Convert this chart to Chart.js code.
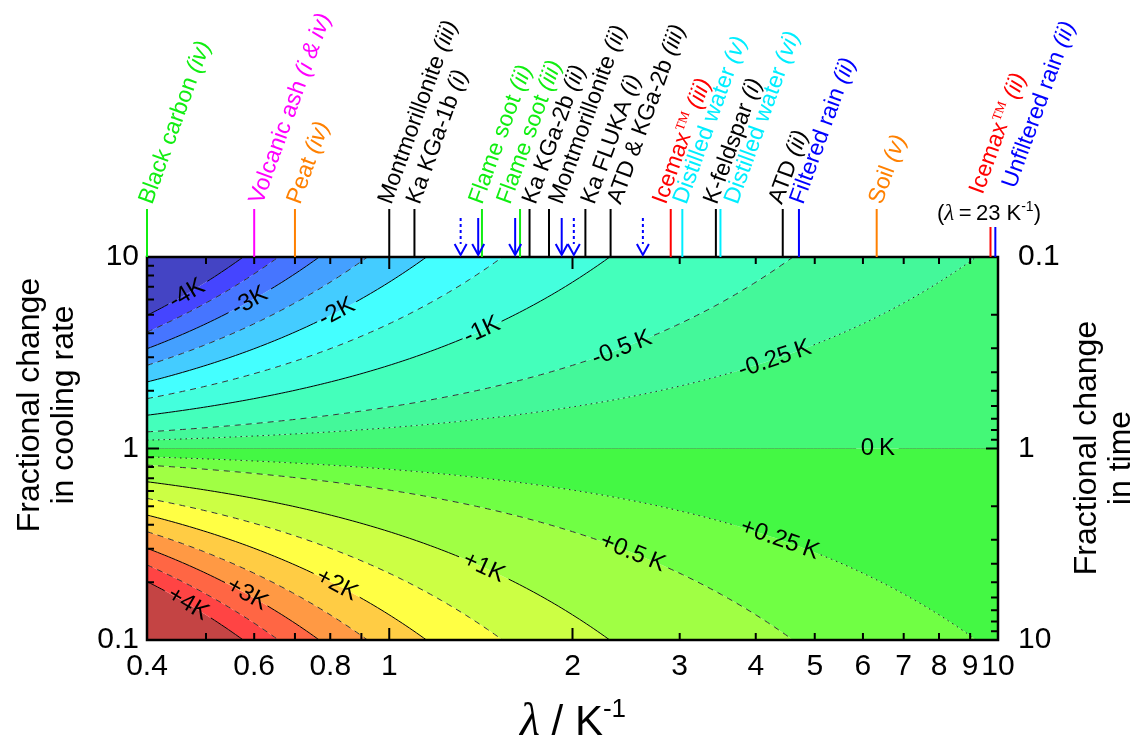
<!DOCTYPE html>
<html>
<head>
<meta charset="utf-8">
<script src="https://cdn.jsdelivr.net/npm/chart.js@4.4.1/dist/chart.umd.min.js"></script>
<style>
  html, body { margin: 0; padding: 0; background: #fff; }
  canvas { display: block; }
</style>
</head>
<body>
<canvas id="c" width="1147" height="753"></canvas>
<script>
/* Contour levels of the freezing temperature shift (K), top band first */
const levels = [-4, -3.5, -3, -2.5, -2, -1.5, -1, -0.5, -0.25, 0, 0.25, 0.5, 1, 1.5, 2, 2.5, 3, 3.5, 4];
const bandColors = [
  "#4444c4", "#4545ff", "#4675ff", "#44a0ff", "#44ccff", "#44ffff", "#44ffdd",
  "#44ffbb", "#44f89a", "#44f877", "#44f844", "#70ff44", "#a0ff44", "#ccff44",
  "#ffff44", "#ffcc44", "#ff9944", "#ff6644", "#ff4444", "#c44444"
];

/* Contour labels */
const labelLevels = [-4, -3, -2, -1, -0.5, -0.25, 0, 0.25, 0.5, 1, 2, 3, 4];
const labelLambda = [0.465, 0.59, 0.82, 1.42, 2.41, 4.3, 6.35, 4.38, 2.51, 1.43, 0.82, 0.584, 0.467];
const labelText = ["-4K", "-3K", "-2K", "-1K", "-0.5\u2009K", "-0.25\u2009K", "0\u2009K",
  "+0.25\u2009K", "+0.5\u2009K", "+1K", "+2K", "+3K", "+4K"];

/* Axis ticks */
const xTickLabels = [0.4, 0.6, 0.8, 1, 2, 3, 4, 5, 6, 7, 8, 9, 10];
const xTickMarks = [0.5, 0.6, 0.7, 0.8, 0.9, 1, 2, 3, 4, 5, 6, 7, 8, 9];
const yTickLabels = [0.1, 1, 10];
const yTickMarks = [0.2, 0.3, 0.4, 0.5, 0.6, 0.7, 0.8, 0.9, 1, 2, 3, 4, 5, 6, 7, 8, 9];

/* Literature lambda values marked above the plot */
const annoLambda = [0.4, 0.6, 0.7, 1.0, 1.1, 1.42, 1.64, 1.7, 1.83, 2.1, 2.31, 2.9, 3.03, 3.44, 3.5, 4.43, 4.71, 6.32, 9.72, 9.9];
const annoName = ["Black carbon", "Volcanic ash", "Peat", "Montmorillonite", "Ka KGa-1b", "Flame soot",
  "Flame soot", "Ka KGa-2b", "Montmorillonite", "Ka FLUKA", "ATD & KGa-2b", "Icemax\u2122",
  "Distilled water", "K-feldspar", "Distilled water", "ATD", "Filtered rain", "Soil",
  "Icemax\u2122", "Unfiltered rain"];
const annoTag = ["(iv)", "(i & iv)", "(iv)", "(iii)", "(i)", "(ii)", "(iii)", "(ii)", "(ii)", "(i)",
  "(iii)", "(iii)", "(v)", "(i)", "(vi)", "(ii)", "(ii)", "(v)", "(ii)", "(ii)"];
const annoColor = ["#11ee11", "#ff00ff", "#ff8000", "#000", "#000", "#11ee11", "#11ee11", "#000",
  "#000", "#000", "#000", "#ff0000", "#00eeff", "#000", "#00eeff", "#000", "#0000ff", "#ff8000",
  "#ff0000", "#0000ff"];
const arrowSolid = [1.4, 1.61, 1.92];
const arrowDotted = [1.31, 2.01, 2.61];

/* layout tweaks for the rotated annotation texts (px) */
const annoDx = [-1, 2, -1, -4, -1, -6, -16, 0, 7, 3, 4, -11, -2, -5, 11, -7, -2, -1, -14, 14];
const annoDy = [0, 0, 0, 0, 0, 0, 0, 0, 0, 0, 0, 0, 0, 0, 0, 0, 0, 0, -10, -16];

const SANS = '"Liberation Sans", Arial, sans-serif';
const SERIF = '"Liberation Serif", "Times New Roman", serif';
const LABEL_FONT = "24px " + SANS;

/* lambda sampling grid used to trace each contour */
const lamGrid = [];
for (let i = 0; i <= 240; i++) lamGrid.push(0.4 * Math.pow(25, i / 240));

// shift dT = -ln(rate)/lambda  ->  rate = exp(-dT * lambda)
const rateFor = (dT, lam) => Math.exp(-dT * lam);

const widthCache = {};
function labelHalfWidth(chart, txt) {
  if (widthCache[txt] === undefined) {
    const c = chart.ctx;
    c.save();
    c.font = LABEL_FONT;
    widthCache[txt] = c.measureText(txt).width / 2;
    c.restore();
  }
  return widthCache[txt];
}

function gapColor(sc, L) {
  const ch = sc.chart;
  const xs = ch.scales.x, ys = ch.scales.y;
  const mx = (sc.p0.x + sc.p1.x) / 2, my = (sc.p0.y + sc.p1.y) / 2;
  for (let i = 0; i < labelLevels.length; i++) {
    if (labelLevels[i] !== L) continue;
    const lam = labelLambda[i];
    const cx = xs.getPixelForValue(lam), cy = ys.getPixelForValue(rateFor(L, lam));
    if (Math.hypot(mx - cx, my - cy) < labelHalfWidth(ch, labelText[i]) + 4) return "rgba(0,0,0,0)";
  }
  return undefined;
}

const datasets = [];
/* filled bands */
levels.forEach((L, i) => {
  datasets.push({
    data: lamGrid.map((l) => ({ x: l, y: rateFor(L, l) })),
    backgroundColor: bandColors[i],
    borderColor: "rgba(0,0,0,0)",
    borderWidth: 0,
    pointRadius: 0,
    fill: i === 0 ? "end" : i - 1,
  });
});
datasets.push({
  data: lamGrid.map((l) => ({ x: l, y: rateFor(levels[levels.length - 1], l) })),
  backgroundColor: bandColors[bandColors.length - 1],
  borderColor: "rgba(0,0,0,0)",
  borderWidth: 0,
  pointRadius: 0,
  fill: "start",
});
/* contour lines */
levels.forEach((L) => {
  let dash = [], color = "#000";
  if (L === 0) color = "rgba(0,90,0,0.35)";
  else if (Math.abs(L) === 0.25) { dash = [1.5, 4]; color = "#222"; }
  else if (!Number.isInteger(L)) { dash = [6, 5]; color = "#333"; }
  datasets.push({
    data: lamGrid.map((l) => ({ x: l, y: rateFor(L, l) })),
    borderColor: color,
    borderWidth: 1,
    borderDash: dash,
    pointRadius: 0,
    fill: false,
    segment: { borderColor: (sc) => gapColor(sc, L) },
  });
});

function drawTicks(ctx, chart) {
  const xs = chart.scales.x, ys = chart.scales.y, y2 = chart.scales.y2;
  const a = chart.chartArea;
  ctx.save();
  ctx.strokeStyle = "#000";
  ctx.lineWidth = 2;
  ctx.beginPath();
  xTickMarks.forEach((v) => {
    const x = xs.getPixelForValue(v);
    const len = v === 1 || v === 2 ? 12 : 7;
    ctx.moveTo(x, a.bottom); ctx.lineTo(x, a.bottom - len);
    ctx.moveTo(x, a.top); ctx.lineTo(x, a.top + len);
  });
  yTickMarks.forEach((v) => {
    const len = v === 1 ? 12 : 7;
    const yl = ys.getPixelForValue(v);
    ctx.moveTo(a.left, yl); ctx.lineTo(a.left + len, yl);
    const yr = y2.getPixelForValue(v);
    ctx.moveTo(a.right, yr); ctx.lineTo(a.right - len, yr);
  });
  ctx.stroke();
  ctx.lineWidth = 2.5;
  ctx.strokeRect(a.left, a.top, a.right - a.left, a.bottom - a.top);
  ctx.restore();
}

function drawContourLabels(ctx, chart) {
  const xs = chart.scales.x, ys = chart.scales.y;
  const a = chart.chartArea;
  ctx.save();
  ctx.beginPath();
  ctx.rect(a.left, a.top, a.right - a.left, a.bottom - a.top);
  ctx.clip();
  ctx.font = LABEL_FONT;
  ctx.fillStyle = "#000";
  ctx.textAlign = "center";
  ctx.textBaseline = "middle";
  labelLevels.forEach((L, i) => {
    const lam = labelLambda[i];
    const px = xs.getPixelForValue(lam), py = ys.getPixelForValue(rateFor(L, lam));
    const px2 = xs.getPixelForValue(lam * 1.03), py2 = ys.getPixelForValue(rateFor(L, lam * 1.03));
    ctx.save();
    ctx.translate(px, py);
    ctx.rotate(Math.atan2(py2 - py, px2 - px));
    ctx.fillText(labelText[i], 0, 0);
    ctx.restore();
  });
  ctx.restore();
}

function drawAnnotations(ctx, chart) {
  const xs = chart.scales.x;
  const top = chart.chartArea.top;
  ctx.save();
  annoLambda.forEach((lam, i) => {
    const x = xs.getPixelForValue(lam);
    const short = lam > 9.5;
    ctx.strokeStyle = annoColor[i];
    ctx.lineWidth = 2;
    ctx.beginPath();
    ctx.moveTo(x, short ? 227 : 209);
    ctx.lineTo(x, top);
    ctx.stroke();

    ctx.save();
    ctx.translate(x + annoDx[i], 203 + annoDy[i]);
    ctx.rotate(-70 * Math.PI / 180);
    ctx.fillStyle = annoColor[i];
    ctx.textAlign = "left";
    ctx.textBaseline = "middle";
    let cx = 0;
    const parts = annoName[i].split("\u2122");
    ctx.font = "23px " + SANS;
    ctx.fillText(parts[0], cx, 0);
    cx += ctx.measureText(parts[0]).width;
    if (parts.length > 1) {
      ctx.font = "13px " + SERIF;
      ctx.fillText("TM", cx + 1, -6);
      cx += ctx.measureText("TM").width + 1;
    }
    ctx.font = "italic 23px " + SANS;
    ctx.fillText(" " + annoTag[i], cx, 0);
    ctx.restore();
  });

  // blue arrows
  ctx.strokeStyle = "#0000ff";
  ctx.lineWidth = 2;
  const drawArrow = (lam, dotted) => {
    const x = xs.getPixelForValue(lam);
    ctx.setLineDash(dotted ? [3, 3] : []);
    ctx.beginPath();
    ctx.moveTo(x, 218);
    ctx.lineTo(x, dotted ? 244 : 254);
    ctx.stroke();
    ctx.setLineDash([]);
    ctx.beginPath();
    ctx.moveTo(x - 6, 244);
    ctx.lineTo(x, 255);
    ctx.lineTo(x + 6, 244);
    ctx.stroke();
  };
  arrowSolid.forEach((l) => drawArrow(l, false));
  arrowDotted.forEach((l) => drawArrow(l, true));

  // (lambda = 23 K-1) note
  ctx.fillStyle = "#000";
  ctx.textBaseline = "alphabetic";
  ctx.textAlign = "left";
  let nx = 937;
  const ny = 220;
  const piece = (t, f, dy) => { ctx.font = f; ctx.fillText(t, nx, ny + (dy || 0)); nx += ctx.measureText(t).width; };
  piece("(", "22px " + SANS);
  piece("\u03bb", "italic 23px " + SERIF);
  piece("\u2009=\u200923 K", "22px " + SANS);
  piece("-1", "14px " + SANS, -9);
  piece(")", "22px " + SANS);
  ctx.restore();
}

function drawTitles(ctx) {
  ctx.save();
  ctx.fillStyle = "#000";
  ctx.textAlign = "center";
  ctx.textBaseline = "middle";
  ctx.font = "32px " + SANS;
  const vtext = (t, x, y) => {
    ctx.save(); ctx.translate(x, y); ctx.rotate(-Math.PI / 2); ctx.fillText(t, 0, 0); ctx.restore();
  };
  vtext("Fractional change", 30, 405);
  vtext("in cooling rate", 64, 405);
  vtext("Fractional change", 1087, 448);
  vtext("in time", 1121, 458);

  // x title: lambda / K-1
  ctx.textAlign = "left";
  ctx.textBaseline = "alphabetic";
  const f1 = "italic 46px " + SERIF, f2 = "42px " + SANS, f3 = "26px " + SANS;
  ctx.font = f1; const w1 = ctx.measureText("\u03bb").width;
  ctx.font = f2; const w2 = ctx.measureText(" / K").width;
  ctx.font = f3; const w3 = ctx.measureText("-1").width;
  let x = 573 - (w1 + w2 + w3) / 2;
  const y = 735;
  ctx.font = f1; ctx.fillText("\u03bb", x, y); x += w1;
  ctx.font = f2; ctx.fillText(" / K", x, y); x += w2;
  ctx.font = f3; ctx.fillText("-1", x, y - 18);
  ctx.restore();
}

const decor = {
  id: "decor",
  afterDatasetsDraw(chart) { drawContourLabels(chart.ctx, chart); },
  afterDraw(chart) {
    const ctx = chart.ctx;
    drawTicks(ctx, chart);
    drawAnnotations(ctx, chart);
    drawTitles(ctx);
  },
};

const tickFont = { family: SANS, size: 30 };
const chart = new Chart(document.getElementById("c").getContext("2d"), {
  type: "line",
  data: { datasets },
  plugins: [decor],
  options: {
    responsive: false,
    animation: false,
    layout: { padding: { top: 257, left: 0, right: 0, bottom: 0 } },
    plugins: {
      legend: { display: false },
      tooltip: { enabled: false },
      filler: { drawTime: "beforeDatasetsDraw", propagate: false },
    },
    scales: {
      x: {
        type: "logarithmic",
        min: 0.4,
        max: 10,
        grid: { display: false, drawTicks: false },
        border: { display: false },
        ticks: {
          font: tickFont, color: "#000", padding: 9, autoSkip: false, maxRotation: 0,
          callback: (v) => String(v),
        },
        afterBuildTicks: (s) => { s.ticks = xTickLabels.map((v) => ({ value: v })); },
        afterFit: (s) => { s.height = 113; },
      },
      y: {
        type: "logarithmic",
        position: "left",
        min: 0.1,
        max: 10,
        grid: { display: false, drawTicks: false },
        border: { display: false },
        ticks: { font: tickFont, color: "#000", padding: 8, callback: (v) => String(v) },
        afterBuildTicks: (s) => { s.ticks = yTickLabels.map((v) => ({ value: v })); },
        afterFit: (s) => { s.width = 147; },
      },
      y2: {
        type: "logarithmic",
        position: "right",
        reverse: true,
        min: 0.1,
        max: 10,
        grid: { display: false, drawTicks: false },
        border: { display: false },
        ticks: { font: tickFont, color: "#000", padding: 20, callback: (v) => String(v) },
        afterBuildTicks: (s) => { s.ticks = yTickLabels.map((v) => ({ value: v })); },
        afterFit: (s) => { s.width = 149; },
      },
    },
  },
});
</script>
</body>
</html>
